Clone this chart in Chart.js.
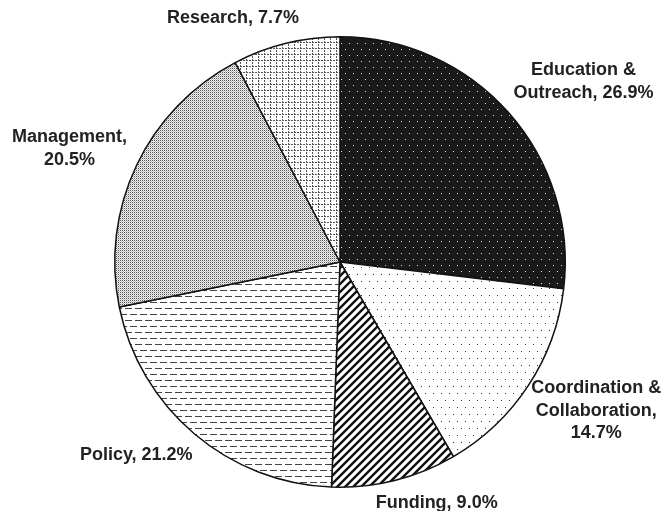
<!DOCTYPE html>
<html>
<head>
<meta charset="utf-8">
<script src="https://cdn.jsdelivr.net/npm/chart.js@4.4.1/dist/chart.umd.min.js"></script>
<style>
  html, body { margin: 0; padding: 0; background: #fff; }
  #wrap { width: 662px; height: 511px; }
</style>
</head>
<body>
<div id="wrap"><canvas id="pie" width="662" height="511"></canvas></div>
<script>
const categories = ['Education & Outreach', 'Coordination & Collaboration', 'Funding', 'Policy', 'Management', 'Research'];
const shares = [26.9, 14.7, 9.0, 21.2, 20.5, 7.7];

// how each label wraps: break after "&", break after ","
const breakAmp = [true, true, false, false, false, false];
const breakComma = [false, true, false, false, true, false];
// label block centre relative to the slice's outer mid point
const labelShift = [[75, -31], [68, 25], [42, 23], [-58, 21], [-67, -17], [-53, -25]];

function tile(w, h, draw) {
    const c = document.createElement('canvas');
    c.width = w;
    c.height = h;
    const g = c.getContext('2d');
    draw(g);
    return g.createPattern(c, 'repeat');
}

const ctx = document.getElementById('pie').getContext('2d');

const patterns = [
    // black with white dots
    tile(8, 12, g => {
        g.fillStyle = '#1a1a1a'; g.fillRect(0, 0, 8, 12);
        g.fillStyle = '#ddd'; g.fillRect(1, 1, 1, 1); g.fillRect(5, 7, 1, 1);
    }),
    // sparse black dots
    tile(8, 14, g => {
        g.fillStyle = '#fff'; g.fillRect(0, 0, 8, 14);
        g.fillStyle = '#333'; g.fillRect(1, 1, 1, 1); g.fillRect(5, 8, 1, 1);
    }),
    // diagonal stripes
    tile(8, 8, g => {
        g.fillStyle = '#fff'; g.fillRect(0, 0, 8, 8);
        g.strokeStyle = '#111'; g.lineWidth = 2.4;
        g.beginPath();
        g.moveTo(-2, 10); g.lineTo(10, -2);
        g.moveTo(-6, 6); g.lineTo(6, -6);
        g.moveTo(2, 14); g.lineTo(14, 2);
        g.stroke();
    }),
    // horizontal dashes
    tile(10, 12, g => {
        g.fillStyle = '#fff'; g.fillRect(0, 0, 10, 12);
        g.fillStyle = '#444';
        g.fillRect(0, 2, 7, 1);
        g.fillRect(5, 8, 5, 1); g.fillRect(0, 8, 2, 1);
    }),
    // fine grey stipple
    tile(2, 2, g => {
        g.fillStyle = '#f4f4f4'; g.fillRect(0, 0, 2, 2);
        g.fillStyle = '#555'; g.fillRect(0, 0, 1, 1);
        g.fillStyle = '#bbb'; g.fillRect(1, 1, 1, 1);
    }),
    // dashed grid
    tile(6, 6, g => {
        g.fillStyle = '#fff'; g.fillRect(0, 0, 6, 6);
        g.fillStyle = '#555';
        g.fillRect(0, 0, 2, 1); g.fillRect(3, 0, 2, 1);
        g.fillRect(0, 2, 1, 2); g.fillRect(0, 5, 1, 1);
    })
];

const sliceLabels = {
    id: 'sliceLabels',
    afterDraw(chart) {
        const c = chart.ctx;
        const meta = chart.getDatasetMeta(0);
        c.save();
        c.font = 'bold 18px "Liberation Sans", Arial, sans-serif';
        c.fillStyle = '#222';
        c.textAlign = 'center';
        c.textBaseline = 'middle';
        meta.data.forEach((arc, i) => {
            const p = arc.getProps(['x', 'y', 'startAngle', 'endAngle', 'outerRadius'], true);
            const mid = (p.startAngle + p.endAngle) / 2;
            const ax = p.x + Math.cos(mid) * p.outerRadius + labelShift[i][0];
            const ay = p.y + Math.sin(mid) * p.outerRadius + labelShift[i][1];
            let text = categories[i] + ', ' + shares[i].toFixed(1) + '%';
            if (breakAmp[i]) text = text.replace('& ', '&\n');
            if (breakComma[i]) text = text.replace(', ', ',\n');
            const lines = text.split('\n');
            const lh = 22.5;
            lines.forEach((ln, k) => {
                c.fillText(ln, ax, ay + (k - (lines.length - 1) / 2) * lh);
            });
        });
        c.restore();
    }
};

new Chart(ctx, {
    type: 'pie',
    data: {
        labels: categories,
        datasets: [{
            data: shares,
            backgroundColor: patterns,
            borderColor: '#111',
            borderWidth: 1.5
        }]
    },
    options: {
        responsive: false,
        animation: false,
        layout: { padding: { top: 36, bottom: 23, left: 114, right: 96 } },
        plugins: {
            legend: { display: false },
            tooltip: { enabled: false }
        }
    },
    plugins: [sliceLabels]
});
</script>
</body>
</html>
